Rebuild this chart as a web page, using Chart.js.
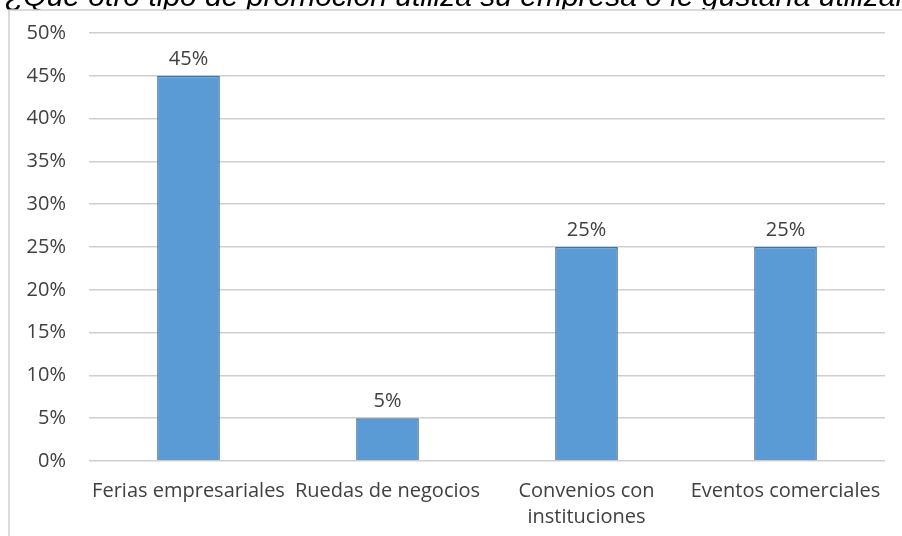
<!DOCTYPE html>
<html>
<head>
<meta charset="utf-8">
<script src="https://cdn.jsdelivr.net/npm/chart.js@4"></script>
<style>
  html, body { margin: 0; padding: 0; background: #fff; overflow: hidden; }
  #wrap { width: 902px; height: 536px; position: relative; }
</style>
</head>
<body>
<div id="wrap"><canvas id="promoChart" width="902" height="536"></canvas></div>
<script>
// data
const titleText = '¿Qué otro tipo de promoción utiliza su empresa o le gustaría utilizar?';
const categories = ['Ferias empresariales', 'Ruedas de negocios', ['Convenios con', 'instituciones'], 'Eventos comerciales'];
const percentValues = [45, 5, 25, 25];

const textColor = '#404040';
const labelFont = { family: 'Open Sans', size: 20, lineHeight: 1.3 };

//#####################
// clipped title + chart box
//#####################
const framePlugin = {
    id: 'frame',
    beforeDraw: (chart) => {
        const ctx = chart.ctx;
        ctx.save();
        ctx.fillStyle = '#fff';
        ctx.fillRect(0, 0, chart.width, chart.height);
        // title sits behind the chart box, only its upper part shows
        ctx.fillStyle = '#000';
        ctx.font = 'italic 30px "Liberation Sans", Arial, sans-serif';
        ctx.textBaseline = 'alphabetic';
        ctx.fillText(titleText, 5, 6);
        ctx.fillStyle = '#fff';
        ctx.fillRect(9, 10, chart.width, chart.height);
        ctx.strokeStyle = '#d0d0d0';
        ctx.lineWidth = 1.5;
        ctx.beginPath();
        ctx.moveTo(9, chart.height);
        ctx.lineTo(9, 10);
        ctx.lineTo(chart.width, 10);
        ctx.stroke();
        ctx.restore();
    }
};

//#####################
// value labels above bars
//#####################
const valueLabels = {
    id: 'valueLabels',
    afterDatasetsDraw: (chart) => {
        const ctx = chart.ctx;
        const meta = chart.getDatasetMeta(0);
        ctx.save();
        ctx.fillStyle = textColor;
        ctx.font = `${labelFont.size}px "${labelFont.family}"`;
        ctx.textAlign = 'center';
        ctx.textBaseline = 'alphabetic';
        meta.data.forEach((bar, i) => {
            ctx.fillText(percentValues[i] + '%', bar.x, bar.y - 11);
        });
        ctx.restore();
    }
};

const chartCanvas = document.getElementById('promoChart');
const myChart = new Chart(chartCanvas, {
    type: 'bar',
    data: {
        labels: categories,
        datasets: [{
            data: percentValues,
            backgroundColor: '#5b9bd5',
            borderColor: '#41719c',
            borderWidth: 1.5,
            barPercentage: 0.63,
            categoryPercentage: 0.5
        }]
    },
    options: {
        responsive: false,
        animation: false,
        layout: { padding: { left: 10, right: 17, top: 33, bottom: 0 } },
        plugins: {
            legend: { display: false },
            tooltip: { enabled: false }
        },
        scales: {
            x: {
                grid: { display: false, drawTicks: false },
                border: { display: false },
                ticks: {
                    color: textColor,
                    font: labelFont,
                    padding: 17,
                    maxRotation: 0,
                    autoSkip: false
                },
                afterFit: (axis) => {
                    axis.height = 75;
                    axis.paddingLeft = 0;
                    axis.paddingRight = 0;
                }
            },
            y: {
                min: 0,
                max: 50,
                grid: { color: '#cfcfcf', lineWidth: 1.5, drawTicks: false },
                border: { display: false },
                ticks: {
                    stepSize: 5,
                    color: textColor,
                    font: labelFont,
                    padding: 23,
                    callback: (v) => v + '%'
                },
                afterFit: (axis) => {
                    axis.width = 79;
                    axis.paddingTop = 0;
                    axis.paddingBottom = 0;
                }
            }
        }
    },
    plugins: [framePlugin, valueLabels]
});
</script>
</body>
</html>
